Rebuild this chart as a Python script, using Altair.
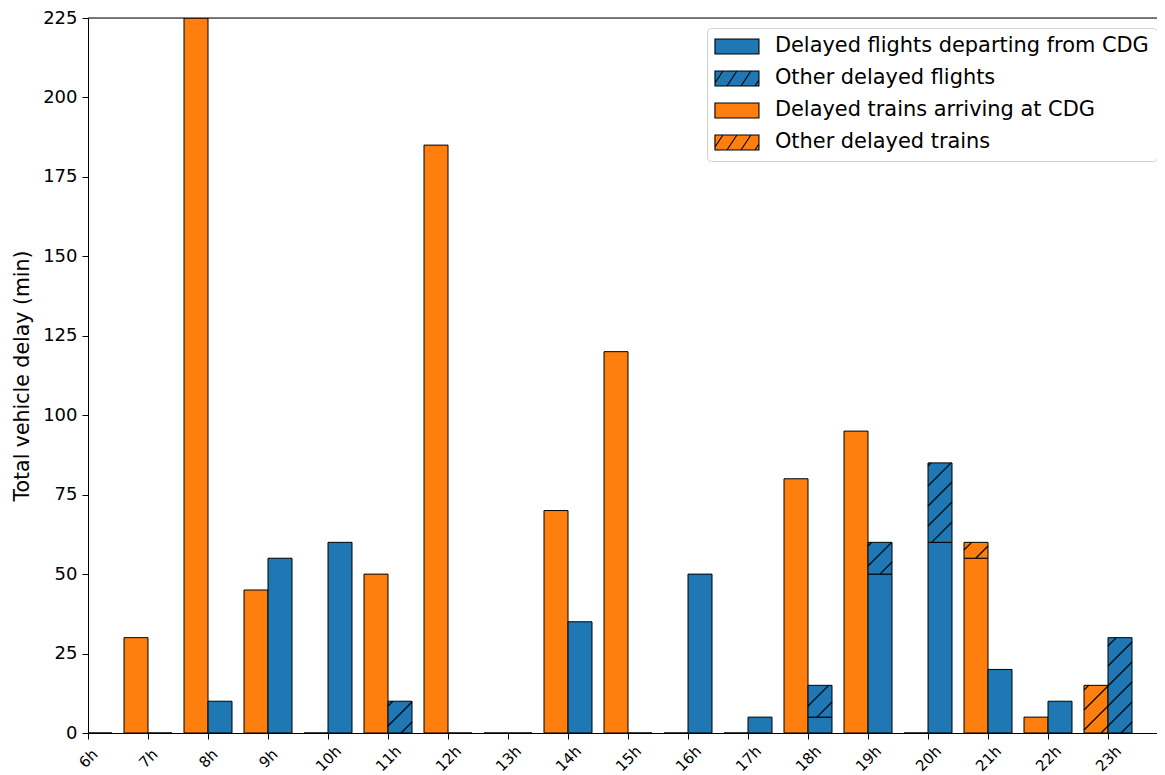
import math
import altair as alt
import pandas as pd

# ---------------- data ----------------
hour_values = list(range(6, 24))
hour_labels = [f"{h}h" for h in hour_values]
trains_arriving = [0, 30, 225, 45, 0, 50, 185, 0, 70, 120, 0, 0, 80, 95, 0, 55, 5, 0]
trains_other = [0, 0, 0, 0, 0, 0, 0, 0, 0, 0, 0, 0, 0, 0, 0, 5, 0, 15]
flights_departing = [0, 0, 10, 55, 60, 0, 0, 0, 35, 0, 50, 5, 5, 50, 60, 20, 10, 0]
flights_other = [0, 0, 0, 0, 0, 10, 0, 0, 0, 0, 0, 0, 10, 10, 25, 0, 0, 30]

series_names = [
    "Delayed flights departing from CDG",
    "Other delayed flights",
    "Delayed trains arriving at CDG",
    "Other delayed trains",
]
series_colors = ["#1f77b4", "#1f77b4", "#ff7f0e", "#ff7f0e"]

# ---------------- layout constants ----------------
W, H = 1069, 715
XMIN = 6
PXH = 60.0                      # pixels per hour
XMAX = XMIN + W / PXH
YMAX = 225
PYM = H / YMAX
BAR_W = 0.4
HATCH = 20.0
PHASE = 7.0

# ---------------- derived tables ----------------
seg_rows = []
for i, h in enumerate(hour_values):
    t0, t1 = trains_arriving[i], trains_other[i]
    f0, f1 = flights_departing[i], flights_other[i]
    seg_rows.append(dict(x0=h - BAR_W, x1=h, y0=0, y1=t0, series=series_names[2], hatched=False))
    if t1 > 0:
        seg_rows.append(dict(x0=h - BAR_W, x1=h, y0=t0, y1=t0 + t1, series=series_names[3], hatched=True))
    seg_rows.append(dict(x0=h, x1=h + BAR_W, y0=0, y1=f0, series=series_names[0], hatched=False))
    if f1 > 0:
        seg_rows.append(dict(x0=h, x1=h + BAR_W, y0=f0, y1=f0 + f1, series=series_names[1], hatched=True))
seg = pd.DataFrame(seg_rows)
legend_df = pd.DataFrame({"series": series_names})


def hatch_lines(xa, xb, ya, yb):
    pxa, pxb = (xa - XMIN) * PXH, (xb - XMIN) * PXH
    pya, pyb = ya * PYM, yb * PYM
    out = []
    kmin = math.floor((pya - pxb - PHASE) / HATCH) - 1
    kmax = math.ceil((pyb - pxa - PHASE) / HATCH) + 1
    for k in range(kmin, kmax + 1):
        c = PHASE + k * HATCH
        s = max(pxa, pya - c)
        e = min(pxb, pyb - c)
        if e - s > 0.8:
            out.append(dict(hx0=s / PXH + XMIN, hx1=e / PXH + XMIN,
                            hy0=(s + c) / PYM, hy1=(e + c) / PYM))
    return out


hatch_rows = []
for r in seg_rows:
    if r["hatched"]:
        hatch_rows += hatch_lines(r["x0"], r["x1"], r["y0"], r["y1"])
hatch = pd.DataFrame(hatch_rows)

# legend symbol shapes (unit = 7.5 px), shifted 0.4 unit left
rect = "M-1.4,-1H4.467V1H-1.4Z"
hatch_path = (rect + " M-1.4,0.6L-0.333,-1 M0.2,1L1.533,-1 M2.067,1L3.4,-1 M3.933,1L4.467,0.2")
shape_range = [rect, hatch_path, rect, hatch_path]

FONT = "DejaVu Sans"

xscale = alt.Scale(domain=[XMIN, XMAX], nice=False, zero=False)
yscale = alt.Scale(domain=[0, YMAX], nice=False, zero=True)

x_axis = alt.Axis(values=hour_values, labelExpr="datum.value + 'h'", labelAngle=315,
                  labelAlign="center", labelBaseline="middle", labelPadding=19,
                  tickSize=6, labelFontSize=15, labelFont=FONT, labelColor="black",
                  title=None, grid=False, labelFlush=False, labelOverlap=False,
                  labelBound=False, domainColor="black", tickColor="black")
y_axis = alt.Axis(values=list(range(0, 226, 25)), labelFontSize=18, labelFont=FONT,
                  labelColor="black", labelPadding=5, tickSize=6, grid=False,
                  labelFlush=False, labelOverlap=False,
                  title="Total vehicle delay (min)", titleFontSize=20.5, titleFont=FONT,
                  titleFontWeight="normal", titleColor="black", titleX=-60, titleY=H / 2,
                  titleAngle=270, titleAlign="center", titleBaseline="alphabetic",
                  domainColor="black", tickColor="black")

bars = alt.Chart(seg).mark_rect(stroke="black", strokeWidth=1, clip=True).encode(
    x=alt.X("x0:Q", scale=xscale, axis=x_axis),
    x2="x1:Q",
    y=alt.Y("y0:Q", scale=yscale, axis=y_axis),
    y2="y1:Q",
    fill=alt.Fill("series:N", scale=alt.Scale(domain=series_names, range=series_colors),
                  legend=None),
)

hatch_layer = alt.Chart(hatch).mark_rule(color="black", strokeWidth=1.2, clip=True).encode(
    x="hx0:Q", x2="hx1:Q", y="hy0:Q", y2="hy1:Q",
)

top_spine = alt.Chart(pd.DataFrame({"top": [YMAX]})).mark_rule(
    color="black", strokeWidth=1).encode(y=alt.Y("top:Q"))

legend_props = dict(title=None, orient="none", legendX=619, legendY=10,
                    padding=8, strokeColor="#d0d0d0", fillColor="white",
                    cornerRadius=4, labelFontSize=20.9, labelFont=FONT,
                    labelColor="black", labelOffset=39, labelLimit=600,
                    symbolSize=225, symbolStrokeWidth=1.1, symbolOpacity=1,
                    rowPadding=10)

legend_layer = alt.Chart(legend_df).transform_filter("false").mark_point(
    filled=True, strokeWidth=1.1, opacity=1).encode(
    fill=alt.Fill("series:N", scale=alt.Scale(domain=series_names, range=series_colors),
                  legend=alt.Legend(**legend_props)),
    stroke=alt.Stroke("series:N",
                      scale=alt.Scale(domain=series_names, range=["black"] * 4),
                      legend=alt.Legend(**legend_props)),
    shape=alt.Shape("series:N", scale=alt.Scale(domain=series_names, range=shape_range),
                    legend=alt.Legend(**legend_props)),
)

chart = alt.layer(bars, hatch_layer, top_spine, legend_layer).resolve_legend(
    fill="independent", shape="independent", stroke="independent"
).properties(
    width=W, height=H,
    autosize=alt.AutoSizeParams(type="none"),
    padding={"left": 80, "top": 10, "right": 0, "bottom": 42},
).configure_view(stroke=None).configure(background="white")

chart.save("out.html", embed_options={"renderer": "svg", "actions": False})
